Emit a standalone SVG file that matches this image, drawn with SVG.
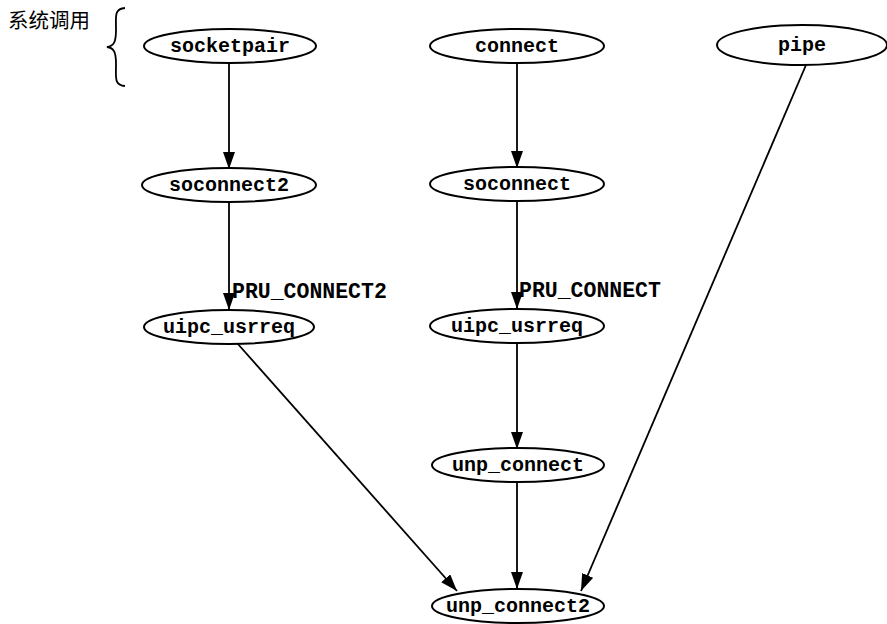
<svg xmlns="http://www.w3.org/2000/svg" width="887" height="624" viewBox="0 0 887 624">
<style>
.n ellipse{fill:#fff;stroke:#000;stroke-width:2}
.n text{font-family:"Liberation Mono","DejaVu Sans Mono",monospace;font-size:20px;font-weight:bold;text-anchor:middle;fill:#000}
.e line{stroke:#000;stroke-width:1.8;marker-end:url(#ah)}
.lbl{font-family:"Liberation Mono","DejaVu Sans Mono",monospace;font-size:21.5px;font-weight:bold;fill:#000}
.cjk{font-family:"Noto Sans CJK SC","Noto Sans",sans-serif;font-size:20.5px;fill:#000}
</style>
<defs>
<marker id="ah" markerUnits="userSpaceOnUse" markerWidth="17" markerHeight="12" viewBox="0 0 17 12" refX="17" refY="6" orient="auto">
<path d="M0,0 L17,6 L0,12 Z" fill="#000"/>
</marker>
</defs>
<rect width="887" height="624" fill="#fff"/>
<g id="label-syscall">
<text class="cjk" x="8" y="28">系统调用</text>
<path d="M125,8 C114,9 116,16 116,30 C116,42 114,46 107,47 C114,48 116,52 116,64 C116,78 114,85 125,86" fill="none" stroke="#000" stroke-width="1.8"/>
</g>
<g id="connectors" class="e">
<line x1="229" y1="63" x2="229" y2="169"/>
<line x1="517" y1="63" x2="517" y2="168"/>
<line x1="229" y1="202" x2="229" y2="310"/>
<line x1="517" y1="201" x2="517" y2="309"/>
<line x1="517" y1="343" x2="517" y2="449"/>
<line x1="517" y1="482" x2="517" y2="589"/>
<line x1="237" y1="343" x2="457" y2="591"/>
<line x1="806" y1="65" x2="581" y2="591"/>
</g>
<text class="lbl" x="232" y="298">PRU_CONNECT2</text>
<text class="lbl" x="519" y="297">PRU_CONNECT</text>
<g id="socketpair" class="n"><ellipse cx="230" cy="46" rx="86" ry="17"/><text x="230" y="52">socketpair</text></g>
<g id="connect" class="n"><ellipse cx="517" cy="46" rx="87" ry="17"/><text x="517" y="52">connect</text></g>
<g id="pipe" class="n"><ellipse cx="802" cy="45" rx="85" ry="20"/><text x="802" y="51">pipe</text></g>
<g id="soconnect2" class="n"><ellipse cx="229" cy="185" rx="87" ry="17"/><text x="229" y="191">soconnect2</text></g>
<g id="soconnect" class="n"><ellipse cx="517" cy="184" rx="87" ry="17"/><text x="517" y="190">soconnect</text></g>
<g id="uipc_usrreq_1" class="n"><ellipse cx="229" cy="327" rx="85" ry="17"/><text x="229" y="333">uipc_usrreq</text></g>
<g id="uipc_usrreq_2" class="n"><ellipse cx="517" cy="326" rx="87" ry="17"/><text x="517" y="332">uipc_usrreq</text></g>
<g id="unp_connect" class="n"><ellipse cx="518" cy="465" rx="86" ry="17"/><text x="518" y="471">unp_connect</text></g>
<g id="unp_connect2" class="n"><ellipse cx="518" cy="606" rx="86" ry="17"/><text x="518" y="612">unp_connect2</text></g>
</svg>
